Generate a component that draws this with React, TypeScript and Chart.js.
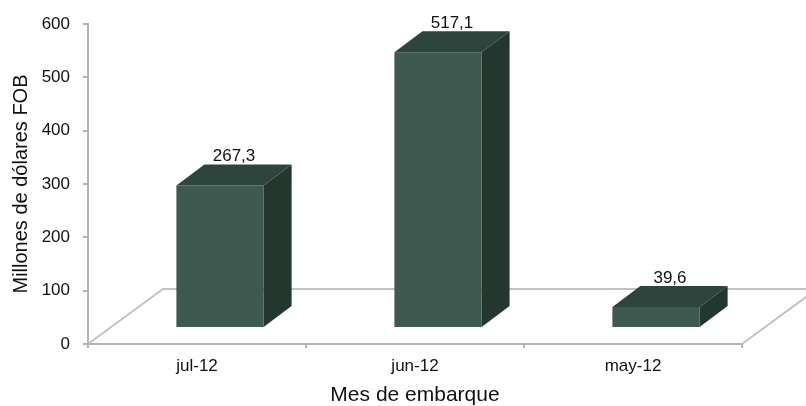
import React, { useEffect, useRef } from "react";
import { Chart, registerables } from "chart.js";

Chart.register(...registerables);

// ---- data ----
const categories = ["jul-12", "jun-12", "may-12"];
const values = [267.3, 517.1, 39.6];
const yTicks = [0, 100, 200, 300, 400, 500, 600];
const yTitle = "Millones de dólares FOB";
const xTitle = "Mes de embarque";

// ---- styles ----
const FONT = "'Liberation Sans', Arial, sans-serif";
const FRONT = "#3d5950";
const TOP = "#2d453d";
const SIDE = "#24372f";
const AXIS = "#b3b3b3";
const FLOOR = "#c2c2c2";
const SHIFT_X = 23;
const SHIFT_Y = -16;
const DEPTH_X = 28;
const DEPTH_Y = -21;
const FLOOR_DX = 75;
const FLOOR_DY = -55;

const fmt = (v: number) => v.toFixed(1).replace(".", ",");

const bars3d = {
  id: "bars3d",
  beforeDatasetsDraw(chart: any) {
    const { ctx, chartArea } = chart;
    const { left, right, bottom } = chartArea;
    ctx.save();
    ctx.strokeStyle = FLOOR;
    ctx.lineWidth = 2;
    ctx.beginPath();
    ctx.moveTo(left, bottom);
    ctx.lineTo(left + FLOOR_DX, bottom + FLOOR_DY);
    ctx.lineTo(right + FLOOR_DX, bottom + FLOOR_DY);
    ctx.lineTo(right, bottom);
    ctx.stroke();
    ctx.restore();
    ctx.save();
    ctx.translate(SHIFT_X, SHIFT_Y);
  },
  afterDatasetsDraw(chart: any) {
    const ctx = chart.ctx;
    const meta = chart.getDatasetMeta(0);
    meta.data.forEach((el: any, i: number) => {
      const { x, y, base, width } = el.getProps(["x", "y", "base", "width"], true);
      const l = x - width / 2;
      const r = x + width / 2;
      ctx.fillStyle = TOP;
      ctx.beginPath();
      ctx.moveTo(l, y);
      ctx.lineTo(l + DEPTH_X, y + DEPTH_Y);
      ctx.lineTo(r + DEPTH_X, y + DEPTH_Y);
      ctx.lineTo(r, y);
      ctx.closePath();
      ctx.fill();
      ctx.fillStyle = SIDE;
      ctx.beginPath();
      ctx.moveTo(r, y);
      ctx.lineTo(r + DEPTH_X, y + DEPTH_Y);
      ctx.lineTo(r + DEPTH_X, base + DEPTH_Y);
      ctx.lineTo(r, base);
      ctx.closePath();
      ctx.fill();
      ctx.fillStyle = "#111";
      ctx.font = `17px ${FONT}`;
      ctx.textAlign = "center";
      ctx.textBaseline = "alphabetic";
      ctx.fillText(fmt(values[i]), x + DEPTH_X / 2, y + DEPTH_Y - 3);
    });
    ctx.restore();
  },
};

export default function App() {
  const ref = useRef<HTMLCanvasElement | null>(null);
  useEffect(() => {
    if (!ref.current) return;
    const chart = new Chart(ref.current, {
      type: "bar",
      data: {
        labels: categories,
        datasets: [
          {
            data: values,
            backgroundColor: FRONT,
            borderWidth: 0,
            barPercentage: 0.4,
            categoryPercentage: 1,
            clip: false as any,
          },
        ],
      },
      options: {
        animation: false,
        responsive: false,
        layout: { padding: { top: 24, right: 64, left: 0, bottom: 0 } },
        plugins: { legend: { display: false }, tooltip: { enabled: false } },
        scales: {
          x: {
            grid: {
              display: true,
              drawOnChartArea: false,
              drawTicks: true,
              tickLength: 4,
              color: AXIS,
              lineWidth: 2,
              offset: true,
            },
            border: { display: true, color: AXIS, width: 2 },
            ticks: { color: "#111", font: { size: 17, family: FONT }, padding: 8 },
            title: {
              display: true,
              text: xTitle,
              color: "#111",
              font: { size: 21, family: FONT, lineHeight: 1 },
              padding: { top: 0, bottom: 0 },
            },
            afterFit: (s: any) => {
              s.height = 62;
            },
          },
          y: {
            min: 0,
            max: 600,
            afterBuildTicks: (s: any) => {
              s.ticks = yTicks.map((v) => ({ value: v }));
            },
            grid: {
              drawOnChartArea: false,
              drawTicks: true,
              tickLength: 5,
              color: AXIS,
              lineWidth: 2,
            },
            border: { display: true, color: AXIS, width: 2 },
            ticks: { color: "#111", font: { size: 17, family: FONT }, padding: 13 },
            title: {
              display: true,
              text: yTitle,
              color: "#111",
              font: { size: 20, family: FONT },
              padding: { top: 9, bottom: 0 },
            },
            afterFit: (s: any) => {
              s.width = 88;
            },
          },
        },
      },
      plugins: [bars3d],
    });
    return () => chart.destroy();
  }, []);
  return (
    <div style={{ position: "absolute", left: 0, top: 0, width: 806, height: 406, background: "#fff" }}>
      <canvas ref={ref} width={806} height={406} style={{ display: "block" }} />
    </div>
  );
}
